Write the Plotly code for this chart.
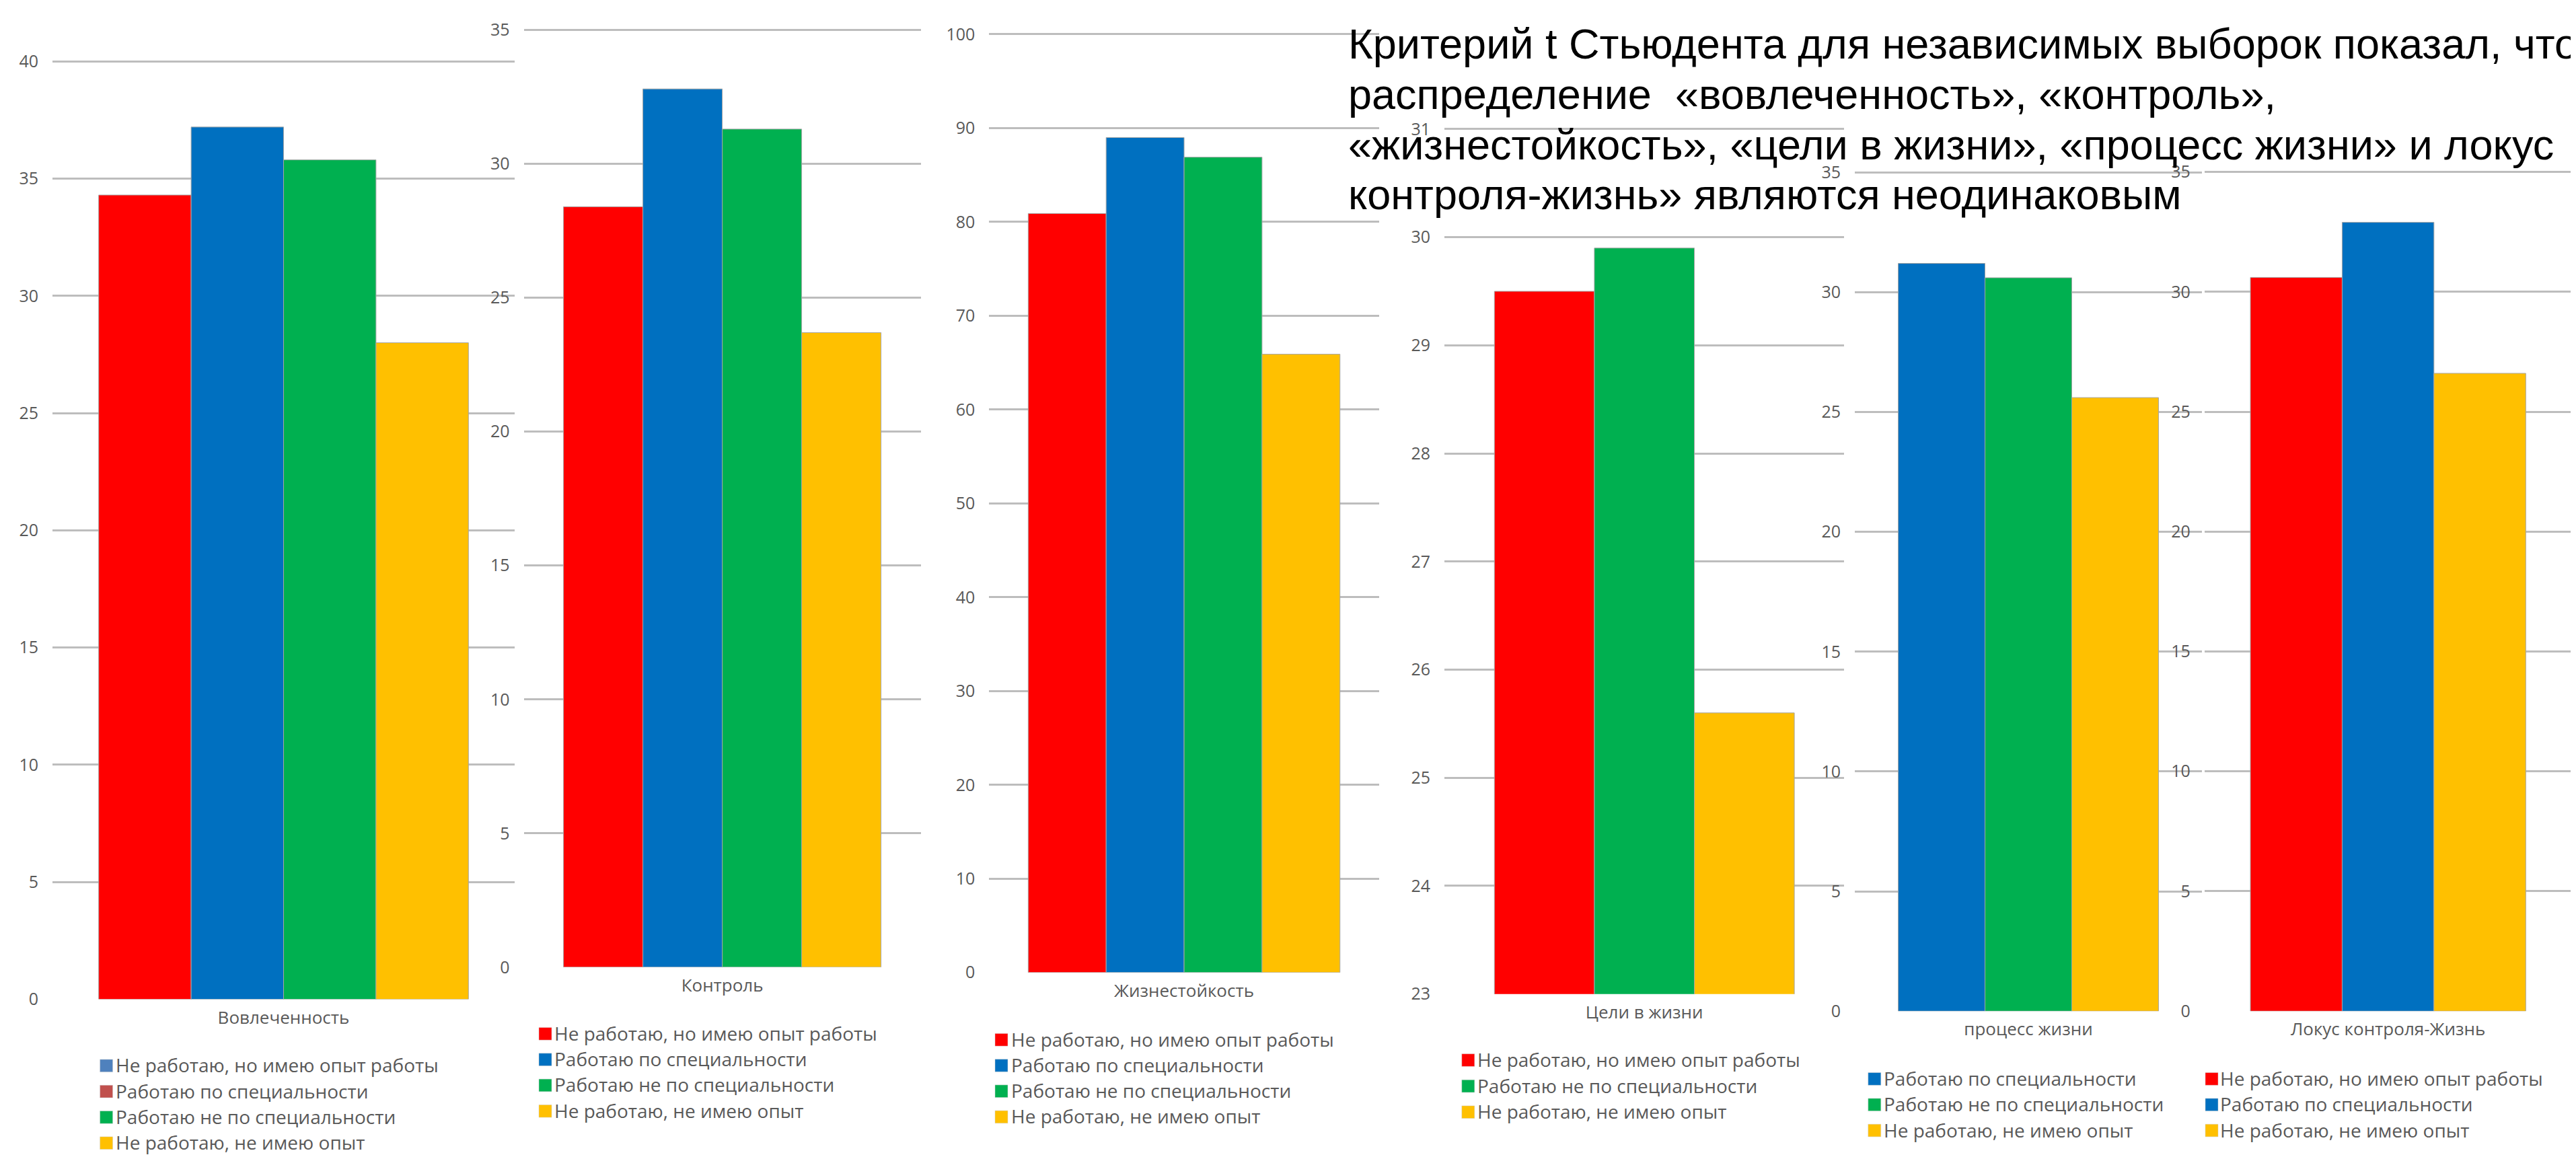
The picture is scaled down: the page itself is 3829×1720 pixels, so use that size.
import plotly.graph_objects as go

# ---------------- data ----------------
G_EXP = "Не работаю, но имею опыт работы"
G_SPEC = "Работаю по специальности"
G_NONSPEC = "Работаю не по специальности"
G_NONE = "Не работаю, не имею опыт"

categories = ["Вовлеченность", "Контроль", "Жизнестойкость",
              "Цели в жизни", "процесс жизни", "Локус контроля-Жизнь"]

vovl_groups = [G_EXP, G_SPEC, G_NONSPEC, G_NONE]
vovl_values = [34.3, 37.2, 35.8, 28.0]

kontr_groups = [G_EXP, G_SPEC, G_NONSPEC, G_NONE]
kontr_values = [28.4, 32.8, 31.3, 23.7]

zhizn_groups = [G_EXP, G_SPEC, G_NONSPEC, G_NONE]
zhizn_values = [80.9, 89.0, 86.9, 65.9]

celi_groups = [G_EXP, G_NONSPEC, G_NONE]
celi_values = [29.5, 29.9, 25.6]

process_groups = [G_SPEC, G_NONSPEC, G_NONE]
process_values = [31.2, 30.6, 25.6]

lokus_groups = [G_EXP, G_SPEC, G_NONE]
lokus_values = [30.6, 32.9, 26.6]

# axis ranges / tick steps for each small chart
y_ranges = [[0, 40], [0, 35], [0, 100], [23, 31], [0, 35], [0, 35]]
y_dticks = [5, 5, 10, 1, 5, 5]

title_lines = [
    "Критерий t Стьюдента для независимых выборок показал, что",
    "распределение  «вовлеченность», «контроль»,",
    "«жизнестойкость», «цели в жизни», «процесс жизни» и локус",
    "контроля-жизнь» являются неодинаковым",
]

# ---------------- styles ----------------
W, H = 3829, 1720
group_colors = {G_EXP: "#FF0000", G_SPEC: "#0070C0",
                G_NONSPEC: "#00B050", G_NONE: "#FFC000"}
# the first chart's legend uses different swatch colours than its bars
legend1_colors = ["#4F81BD", "#C0504D", "#00B050", "#FFC000"]

TXT = "#595959"
GRID = "#BDBDBD"
FONT = "Open Sans"

panels = [
    dict(groups=vovl_groups, values=vovl_values, xpx=(70, 757), ypx=(1489.5, 70.5),
         xr=0.5, leg=(140.6, 165, 1590, 39.0)),
    dict(groups=kontr_groups, values=kontr_values, xpx=(770.6, 1360.6), ypx=(1441, 23),
         xr=0.5, leg=(793, 817, 1541.7, 39.0)),
    dict(groups=zhizn_groups, values=zhizn_values, xpx=(1462.4, 2041.7), ypx=(1449, 29.5),
         xr=0.5, leg=(1471, 1496, 1550.8, 38.9)),
    dict(groups=celi_groups, values=celi_values, xpx=(2139, 2733.4), ypx=(1481.5, 173),
         xr=0.5333, leg=(2164.8, 2188.8, 1581.6, 39.3)),
    dict(groups=process_groups, values=process_values, xpx=(2749, 3265), ypx=(1507.5, 238.3),
         xr=0.5333, leg=(2768.8, 2792.9, 1610, 39.0)),
    dict(groups=lokus_groups, values=lokus_values, xpx=(3268.8, 3814.5), ypx=(1507.5, 237.7),
         xr=0.5333, leg=(3270, 3293, 1610, 39.0)),
]


def px(x):
    return x / W


def py(y):
    return 1 - y / H


fig = go.Figure()
layout_axes = {}
shapes = []
annotations = []
EXT = 4  # px of headroom so the top gridline is not clipped at the plot edge

for i, p in enumerate(panels, start=1):
    xa = "x" if i == 1 else f"x{i}"
    ya = "y" if i == 1 else f"y{i}"
    cat = categories[i - 1]
    for g, v in zip(p["groups"], p["values"]):
        fig.add_trace(go.Bar(
            x=[cat], y=[v], name=g, xaxis=xa, yaxis=ya, showlegend=False,
            marker=dict(color=group_colors[g], line=dict(color="#A6A6A6", width=1)),
        ))
    r0, r1 = y_ranges[i - 1]
    ybot, ytop = p["ypx"]
    upp = (ybot - ytop) / (r1 - r0)
    layout_axes["xaxis" if i == 1 else f"xaxis{i}"] = dict(
        domain=[px(p["xpx"][0]), px(p["xpx"][1])],
        anchor=ya, type="category", range=[-p["xr"], p["xr"]],
        showgrid=False, zeroline=False, showline=False, ticks="",
        tickfont=dict(family=FONT, size=26, color=TXT), ticklabelstandoff=9,
        fixedrange=True,
    )
    layout_axes["yaxis" if i == 1 else f"yaxis{i}"] = dict(
        domain=[py(ybot), py(ytop - EXT)],
        anchor=xa, range=[r0, r1 + EXT / upp], tickmode="linear",
        tick0=r0, dtick=y_dticks[i - 1],
        showgrid=True, gridcolor=GRID, gridwidth=3, zeroline=False,
        showline=False, ticks="", ticklabelstandoff=20,
        tickfont=dict(family=FONT, size=25, color=TXT), fixedrange=True,
    )
    # legend
    mx, tx, y0, dy = p["leg"]
    for k, g in enumerate(p["groups"]):
        yc = y0 + k * dy
        col = legend1_colors[k] if i == 1 else group_colors[g]
        shapes.append(dict(type="rect", xref="paper", yref="paper",
                           x0=px(mx), x1=px(mx + 19), y0=py(yc + 9.5), y1=py(yc - 9.5),
                           fillcolor=col, line=dict(width=0.5, color="#D0D0D0")))
        annotations.append(dict(text=g, x=px(tx - 3), y=py(yc - 1), xref="paper", yref="paper",
                                xanchor="left", yanchor="middle", showarrow=False,
                                font=dict(family=FONT, size=28, color=TXT)))

# title text block
title_centers = [44, 120, 196, 272]
for line, yc in zip(title_lines, title_centers):
    annotations.append(dict(text=line, x=px(1994), y=py(yc), xref="paper", yref="paper",
                            xanchor="left", yanchor="middle", showarrow=False,
                            font=dict(family="Liberation Sans", size=63, color="#000000")))

fig.update_layout(
    width=W, height=H, margin=dict(l=0, r=0, t=0, b=0),
    paper_bgcolor="white", plot_bgcolor="white",
    barmode="group", bargap=0.2, bargroupgap=0,
    showlegend=False, shapes=shapes, annotations=annotations,
    **layout_axes,
)

fig.write_html("out.html")
